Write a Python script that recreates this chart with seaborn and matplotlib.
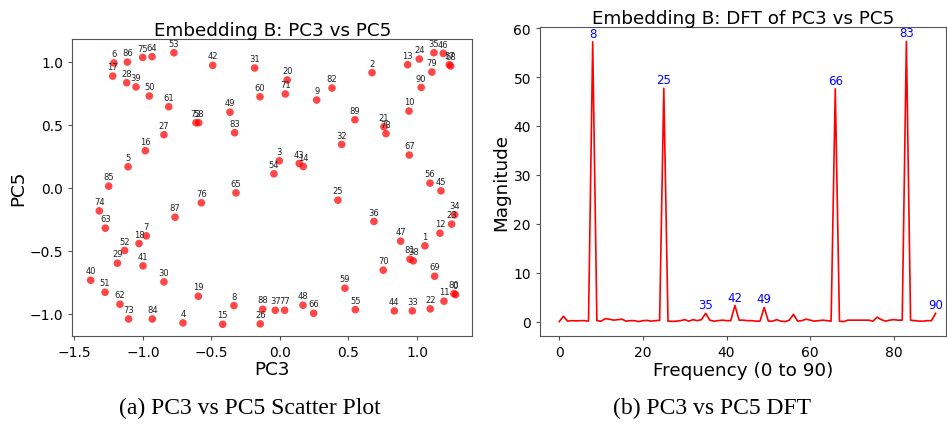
import numpy as np
import pandas as pd
import matplotlib
matplotlib.use("Agg")
import matplotlib.pyplot as plt
import seaborn as sns

pc3 = [1.282, 1.058, 0.672, -0.005, -0.708, -1.109, -1.212, -0.976, -0.336, 0.268,
       0.942, 1.197, 1.168, 0.932, 0.17, -0.418, -0.983, -1.221, -1.029, -0.596,
       0.053, 0.759, 1.097, 1.253, 1.017, 0.423, -0.144, -0.847, -1.119, -1.187,
       -0.847, -0.185, 0.45, 0.966, 1.275, 1.124, 0.686, -0.034, 0.973, -1.051,
       -1.382, -1.0, -0.491, 0.141, 0.835, 1.175, 1.192, 0.881, 0.168, -0.365,
       -0.954, -1.277, -1.134, -0.774, -0.044, 0.55, 1.095, 1.236, -0.593, 0.474,
       -0.146, -0.812, -1.168, -1.275, -0.934, -0.321, 0.246, 0.944, 1.246, 1.129,
       0.754, 0.039, -0.613, -1.105, -1.319, -1.002, -0.574, 0.034, 0.774, 1.109,
       1.27, 0.949, 0.38, -0.331, -0.932, -1.25, -1.114, -0.766, -0.126, 0.547,
       1.031]
pc5 = [-0.847, -0.46, 0.913, 0.214, -1.071, 0.167, 0.99, -0.381, -0.934, 0.696,
       0.609, -0.899, -0.36, 0.976, 0.169, -1.082, 0.294, 0.886, -0.442, -0.86,
       0.855, 0.484, -0.96, -0.288, 1.021, -0.098, -1.079, 0.421, 0.833, -0.598,
       -0.746, 0.95, 0.344, -0.976, -0.214, 1.071, -0.267, -0.971, -0.579, 0.80,
       -0.733, -0.619, 0.971, 0.193, -0.976, -0.024, 1.066, -0.423, -0.931, 0.60,
       0.728, -0.828, -0.497, 1.071, 0.111, -0.966, 0.037, 0.976, 0.516, -0.796,
       0.722, 0.643, -0.923, -0.32, 1.04, -0.04, -0.995, 0.26, 0.966, -0.701,
       -0.653, 0.744, 0.516, -1.04, -0.183, 1.034, -0.119, -0.971, 0.429, 0.918,
       -0.839, -0.566, 0.791, 0.437, -1.04, 0.013, 0.997, -0.233, -0.963, 0.54,
       0.796]
point_ids = list(range(91))

freq = list(range(91))
magnitude = [0.0, 1.1, 0.1, 0.2, 0.15, 0.2, 0.2, 0.1, 57.2, 0.2,
             0.1, 0.6, 0.5, 0.3, 0.4, 0.5, 0.1, 0.2, 0.2, 0.0,
             0.2, 0.25, 0.1, 0.2, 0.25, 47.7, 0.1, 0.05, 0.1, 0.2,
             0.4, 0.1, 0.4, 0.2, 0.4, 1.7, 0.3, 0.1, 0.2, 0.3,
             0.2, 0.2, 3.3, 0.3, 0.3, 0.2, 0.2, 0.1, 0.1, 2.9,
             0.1, 0.1, 0.4, 0.1, 0.0, 0.3, 1.5, 0.1, 0.2, 0.5,
             0.3, 0.1, 0.2, 0.3, 0.2, 0.1, 47.6, 0.1, 0.0, 0.3,
             0.3, 0.3, 0.3, 0.3, 0.3, 0.1, 0.9, 0.4, 0.1, 0.3,
             0.4, 0.3, 0.3, 57.3, 0.3, 0.2, 0.1, 0.1, 0.2, 0.2,
             1.7]
peak_labels = [8, 25, 35, 42, 49, 66, 83, 90]

df_sc = pd.DataFrame({"PC3": pc3, "PC5": pc5, "id": point_ids})
df_ft = pd.DataFrame({"freq": freq, "mag": magnitude})

W, H = 947, 427
fig = plt.figure(figsize=(W / 100, H / 100), dpi=100)

spine_col = "#555555"
title_fs = 13.2
label_fs = 13.2
tick_fs = 10

# Left: scatter
ax1 = fig.add_axes([72.3 / W, 1 - 337 / H, 400 / W, 297 / H])
sns.scatterplot(data=df_sc, x="PC3", y="PC5", ax=ax1, color="red", alpha=0.72,
                s=30, edgecolor="none", legend=False)
for _, r in df_sc.iterrows():
    ax1.annotate(str(int(r["id"])), (r["PC3"], r["PC5"]), textcoords="offset points",
                 xytext=(0, 3.5), ha="center", va="bottom", fontsize=6, color="#222222")
ax1.set_xlim(-1.516, 1.404)
ax1.set_ylim(-1.175, 1.18)
ax1.set_xticks([-1.5, -1.0, -0.5, 0.0, 0.5, 1.0])
ax1.set_yticks([-1.0, -0.5, 0.0, 0.5, 1.0])
ax1.set_title("Embedding B: PC3 vs PC5", fontsize=title_fs, pad=3)
ax1.set_xlabel("PC3", fontsize=label_fs, labelpad=1)
ax1.set_ylabel("PC5", fontsize=label_fs, labelpad=2)
ax1.tick_params(labelsize=tick_fs, length=3, color=spine_col)

# Right: DFT
ax2 = fig.add_axes([540 / W, 1 - 337.3 / H, 405.7 / W, 309.6 / H])
sns.lineplot(data=df_ft, x="freq", y="mag", ax=ax2, color="red", linewidth=1.2)
for k in peak_labels:
    ax2.text(freq[k], magnitude[k] + 0.4, str(k), color="blue", ha="center",
             va="bottom", fontsize=8.5)
ax2.set_xlim(-4.6, 92.4)
ax2.set_ylim(-3.0, 60.3)
ax2.set_xticks([0, 20, 40, 60, 80])
ax2.set_yticks([0, 10, 20, 30, 40, 50, 60])
ax2.set_title("Embedding B: DFT of PC3 vs PC5", fontsize=title_fs, pad=3)
ax2.set_xlabel("Frequency (0 to 90)", fontsize=label_fs, labelpad=1)
ax2.set_ylabel("Magnitude", fontsize=label_fs, labelpad=2)
ax2.tick_params(labelsize=tick_fs, length=3, color=spine_col)

for ax in (ax1, ax2):
    for sp in ax.spines.values():
        sp.set_color(spine_col)

fig.text(250 / W, 1 - 408 / H, "(a) PC3 vs PC5 Scatter Plot", ha="center", va="center",
         fontsize=17, family="Liberation Serif")
fig.text(712 / W, 1 - 408 / H, "(b) PC3 vs PC5 DFT", ha="center", va="center",
         fontsize=17, family="Liberation Serif")

fig.savefig("out.png", dpi=100)
